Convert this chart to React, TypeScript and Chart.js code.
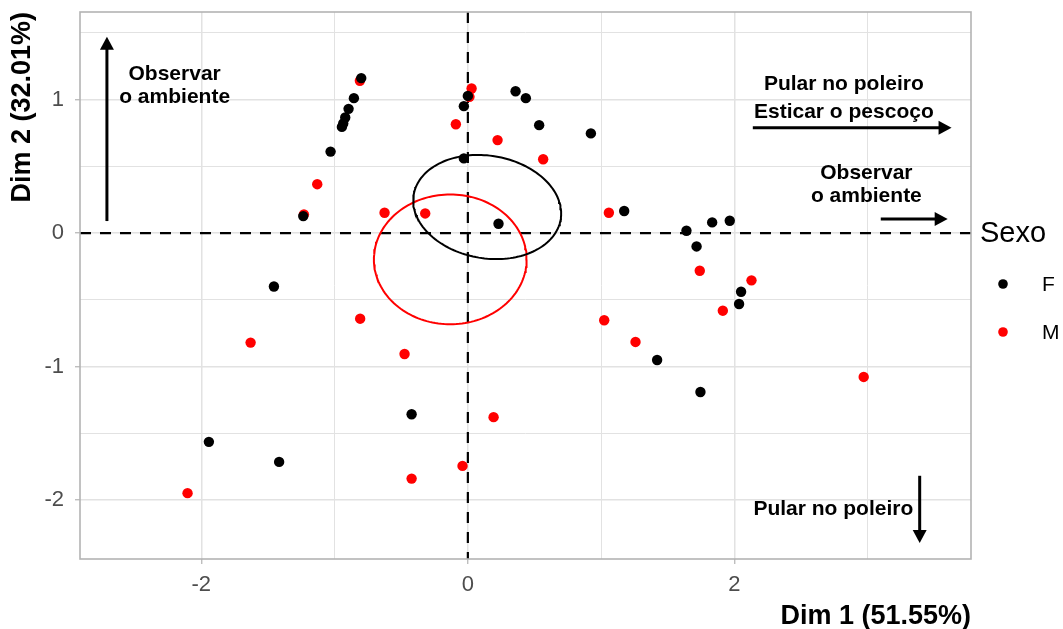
import React, { useEffect, useRef } from "react";
import { Chart, registerables } from "chart.js";

Chart.register(...registerables);

// ---- Data (individuals on Dim 1 / Dim 2, by Sexo) ----
const groupLabels = ["F", "M"];
const groupColors = ["#000000", "#FF0000"];

const femaleX = [
  -0.8, -0.855, -0.895, -0.92, -0.935, -0.945, -1.03, -1.235, 0.0, -0.03, 0.358,
  0.435, 0.535, 0.923, -0.03, 0.23, 1.173, 1.64, 1.833, 1.965, 1.716, 2.05, 2.035,
  1.42, 1.745, -1.455, -0.422, -1.943, -1.416,
];
const femaleY = [
  1.16, 1.01, 0.93, 0.865, 0.82, 0.795, 0.61, 0.127, 1.027, 0.95, 1.062, 1.01,
  0.808, 0.746, 0.559, 0.07, 0.165, 0.017, 0.08, 0.092, -0.1, -0.439, -0.531,
  -0.95, -1.19, -0.4, -1.356, -1.563, -1.713,
];

const maleX = [
  -0.81, -1.13, -1.23, -0.625, -0.32, 0.028, 0.012, -0.09, 0.223, 0.565, 1.058,
  1.74, 2.128, 1.913, 1.023, 1.258, 2.97, -1.63, -0.808, -0.475, -2.103, -0.422,
  -0.04, 0.193,
];
const maleY = [
  1.14, 0.366, 0.14, 0.152, 0.147, 1.082, 1.02, 0.815, 0.696, 0.553, 0.152,
  -0.282, -0.354, -0.581, -0.653, -0.815, -1.077, -0.82, -0.641, -0.905, -1.947,
  -1.838, -1.743, -1.378,
];

// Confidence ellipses (center, semi-axes, rotation in degrees)
const ellipseCenterX = [0.145, -0.132];
const ellipseCenterY = [0.195, -0.197];
const ellipseRadiusA = [0.559, 0.573];
const ellipseRadiusB = [0.384, 0.486];
const ellipseAngleDeg = [-9.5, 0];

// Axis ticks
const xLabelValues = [-2, 0, 2];
const yLabelValues = [-2, -1, 0, 1];
const xTitle = "Dim 1 (51.55%)";
const yTitle = "Dim 2 (32.01%)";
const legendTitle = "Sexo";

// Annotations (text in data coordinates)
const noteTexts = [
  "Observar",
  "o ambiente",
  "Pular no poleiro",
  "Esticar o pescoço",
  "Observar",
  "o ambiente",
  "Pular no poleiro",
];
const noteX = [-2.2, -2.2, 2.821, 2.821, 2.99, 2.99, 2.742];
const noteY = [1.189, 1.017, 1.111, 0.905, 0.449, 0.279, -2.064];

// Arrows (from -> to, data coordinates)
const arrowFromX = [-2.708, 2.138, 3.098, 3.39];
const arrowFromY = [0.09, 0.788, 0.105, -1.817];
const arrowToX = [-2.708, 3.629, 3.6, 3.39];
const arrowToY = [1.47, 0.788, 0.105, -2.32];

const FONT = "'Liberation Sans', Arial, Helvetica, sans-serif";

function ellipsePoints(i: number) {
  const pts: { x: number; y: number }[] = [];
  const th = (ellipseAngleDeg[i] * Math.PI) / 180;
  const n = 160;
  for (let k = 0; k <= n; k++) {
    const t = (k / n) * 2 * Math.PI;
    const ca = ellipseRadiusA[i] * Math.cos(t);
    const sb = ellipseRadiusB[i] * Math.sin(t);
    pts.push({
      x: ellipseCenterX[i] + ca * Math.cos(th) - sb * Math.sin(th),
      y: ellipseCenterY[i] + ca * Math.sin(th) + sb * Math.cos(th),
    });
  }
  return pts;
}

export default function App() {
  const ref = useRef<HTMLCanvasElement>(null);

  useEffect(() => {
    document.body.style.margin = "0";
    const canvas = ref.current;
    if (!canvas) return;

    const overlay = {
      id: "overlay",
      beforeDatasetsDraw(chart: any) {
        const { ctx, chartArea: a, scales } = chart;
        const x0 = scales.x.getPixelForValue(0);
        const y0 = scales.y.getPixelForValue(0);
        ctx.save();
        ctx.strokeStyle = "#000";
        ctx.lineWidth = 2.2;
        ctx.setLineDash([11, 9]);
        ctx.beginPath();
        ctx.moveTo(a.left, y0);
        ctx.lineTo(a.right, y0);
        ctx.stroke();
        ctx.beginPath();
        ctx.moveTo(x0, a.top);
        ctx.lineTo(x0, a.bottom);
        ctx.stroke();
        ctx.restore();
      },
      afterDatasetsDraw(chart: any) {
        const { ctx, chartArea: a, scales } = chart;
        ctx.save();
        // arrows
        ctx.strokeStyle = "#000";
        ctx.fillStyle = "#000";
        ctx.lineWidth = 3;
        ctx.setLineDash([]);
        for (let i = 0; i < arrowFromX.length; i++) {
          const px0 = scales.x.getPixelForValue(arrowFromX[i]);
          const py0 = scales.y.getPixelForValue(arrowFromY[i]);
          const px1 = scales.x.getPixelForValue(arrowToX[i]);
          const py1 = scales.y.getPixelForValue(arrowToY[i]);
          const ang = Math.atan2(py1 - py0, px1 - px0);
          const hl = 13;
          const hw = 7;
          const bx = px1 - hl * Math.cos(ang);
          const by = py1 - hl * Math.sin(ang);
          ctx.beginPath();
          ctx.moveTo(px0, py0);
          ctx.lineTo(bx + 1 * Math.cos(ang), by + 1 * Math.sin(ang));
          ctx.stroke();
          ctx.beginPath();
          ctx.moveTo(px1, py1);
          ctx.lineTo(bx - hw * Math.sin(ang), by + hw * Math.cos(ang));
          ctx.lineTo(bx + hw * Math.sin(ang), by - hw * Math.cos(ang));
          ctx.closePath();
          ctx.fill();
        }
        // texts
        ctx.font = `bold 21px ${FONT}`;
        ctx.textAlign = "center";
        ctx.textBaseline = "middle";
        for (let i = 0; i < noteTexts.length; i++) {
          ctx.fillText(
            noteTexts[i],
            scales.x.getPixelForValue(noteX[i]),
            scales.y.getPixelForValue(noteY[i])
          );
        }
        // panel border
        ctx.strokeStyle = "#b3b3b3";
        ctx.lineWidth = 1.6;
        ctx.strokeRect(a.left, a.top, a.right - a.left, a.bottom - a.top);
        ctx.restore();
      },
      afterDraw(chart: any) {
        const { ctx } = chart;
        ctx.save();
        ctx.fillStyle = "#000";
        ctx.textAlign = "left";
        ctx.textBaseline = "middle";
        ctx.font = `29px ${FONT}`;
        ctx.fillText(legendTitle, 980, 234);
        ctx.font = `21px ${FONT}`;
        for (let i = 0; i < 2; i++) {
          const ds = chart.data.datasets[i];
          const cy = 284 + i * 48;
          ctx.fillStyle = ds.backgroundColor;
          ctx.beginPath();
          ctx.arc(1003, cy, 4.8, 0, Math.PI * 2);
          ctx.fill();
          ctx.fillStyle = "#000";
          ctx.fillText(ds.label, 1042, cy + 1);
        }
        ctx.restore();
      },
    };

    const isMajorX = (v: number) => xLabelValues.includes(v);
    const isMajorY = (v: number) => yLabelValues.includes(v);

    const chart = new Chart(canvas, {
      type: "scatter",
      data: {
        datasets: [
          {
            label: groupLabels[0],
            data: femaleX.map((x, i) => ({ x, y: femaleY[i] })),
            backgroundColor: groupColors[0],
            borderWidth: 0,
            pointRadius: 5.2,
            order: 1,
          },
          {
            label: groupLabels[1],
            data: maleX.map((x, i) => ({ x, y: maleY[i] })),
            backgroundColor: groupColors[1],
            borderWidth: 0,
            pointRadius: 5.2,
            order: 2,
          },
          {
            label: "ellipse F",
            data: ellipsePoints(0),
            showLine: true,
            borderColor: groupColors[0],
            borderWidth: 2,
            pointRadius: 0,
            fill: false,
            order: 0,
          },
          {
            label: "ellipse M",
            data: ellipsePoints(1),
            showLine: true,
            borderColor: groupColors[1],
            borderWidth: 2,
            pointRadius: 0,
            fill: false,
            order: 0,
          },
        ],
      },
      options: {
        responsive: false,
        animation: false,
        events: [],
        layout: { padding: { left: 0, top: 12, right: 92, bottom: 0 } },
        plugins: {
          legend: { display: false },
          tooltip: { enabled: false },
        },
        scales: {
          x: {
            type: "linear",
            min: -2.91,
            max: 3.775,
            afterFit: (s: any) => {
              s.height = 70;
              s.paddingLeft = 0;
              s.paddingRight = 0;
            },
            ticks: {
              stepSize: 1,
              includeBounds: false,
              autoSkip: false,
              maxRotation: 0,
              padding: 8,
              color: "#4d4d4d",
              font: { family: FONT, size: 22 },
              callback: (v: any) => (isMajorX(Number(v)) ? String(v) : ""),
            },
            grid: {
              color: "#e2e2e2",
              lineWidth: (c: any) => (c.tick && isMajorX(c.tick.value) ? 1.5 : 1),
              tickLength: 5,
              tickWidth: 1.2,
              tickColor: (c: any) =>
                c.tick && isMajorX(c.tick.value) ? "#b3b3b3" : "rgba(0,0,0,0)",
            },
            border: { display: false },
            title: {
              display: true,
              text: xTitle,
              align: "end",
              color: "#000",
              font: { family: FONT, size: 27, weight: "bold", lineHeight: 1 },
              padding: { top: 0, bottom: -1 },
            },
          },
          y: {
            type: "linear",
            min: -2.44,
            max: 1.655,
            afterFit: (s: any) => {
              s.width = 80;
              s.paddingTop = 0;
              s.paddingBottom = 0;
            },
            ticks: {
              stepSize: 0.5,
              includeBounds: false,
              autoSkip: false,
              padding: 11,
              color: "#4d4d4d",
              font: { family: FONT, size: 22 },
              callback: (v: any) => (isMajorY(Number(v)) ? String(v) : ""),
            },
            grid: {
              color: "#e2e2e2",
              lineWidth: (c: any) => (c.tick && isMajorY(c.tick.value) ? 1.5 : 1),
              tickLength: 5,
              tickWidth: 1.2,
              tickColor: (c: any) =>
                c.tick && isMajorY(c.tick.value) ? "#b3b3b3" : "rgba(0,0,0,0)",
            },
            border: { display: false },
            title: {
              display: true,
              text: yTitle,
              align: "end",
              color: "#000",
              font: { family: FONT, size: 27, weight: "bold", lineHeight: 1 },
              padding: { top: 9.5, bottom: 0 },
            },
          },
        },
      },
      plugins: [overlay],
    } as any);

    return () => chart.destroy();
  }, []);

  return (
    <canvas
      ref={ref}
      width={1063}
      height={629}
      style={{ display: "block", width: 1063, height: 629 }}
    />
  );
}
